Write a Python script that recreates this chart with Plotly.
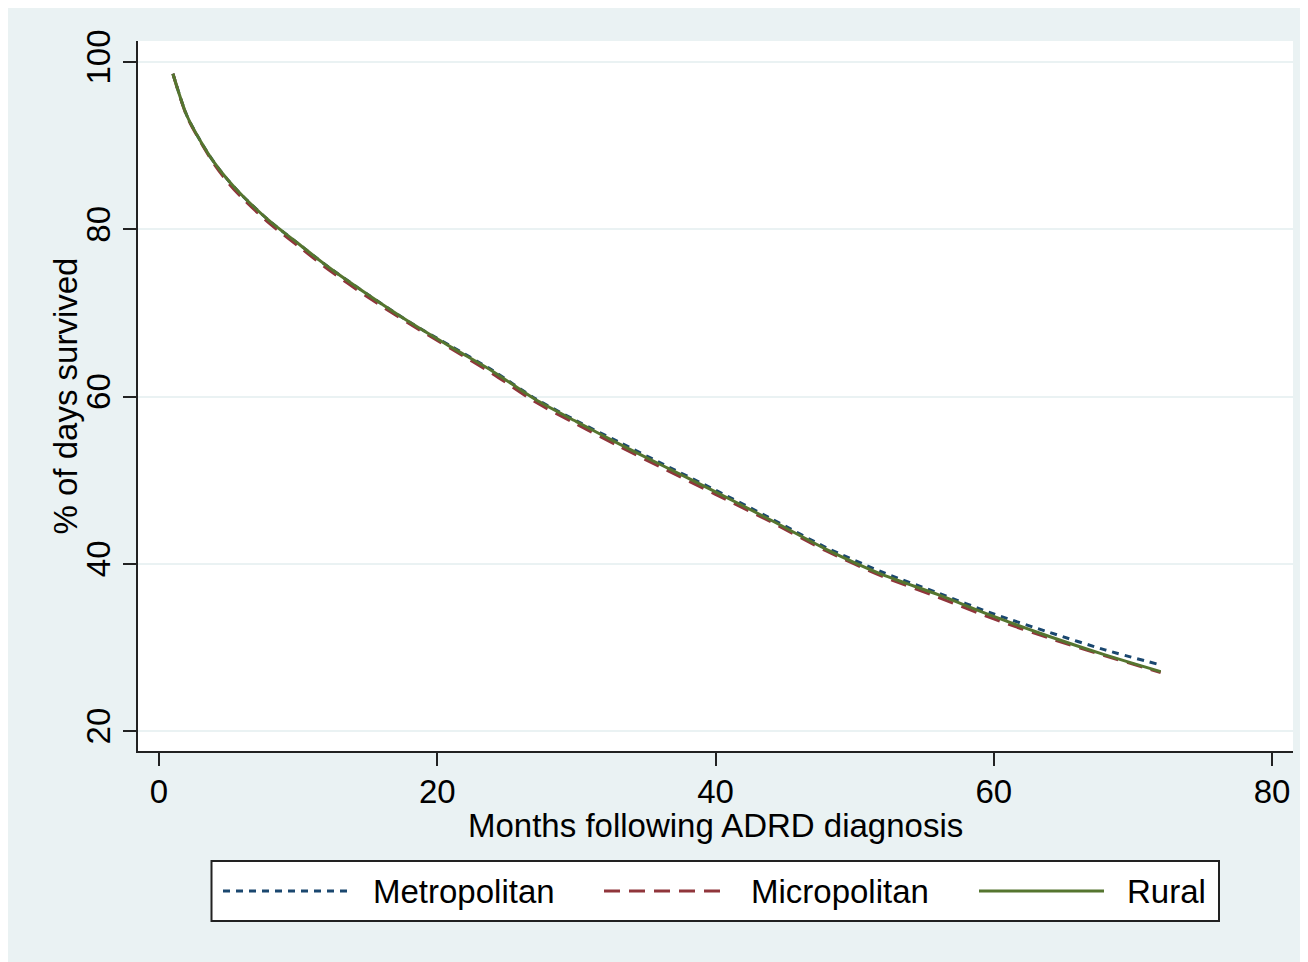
import plotly.graph_objects as go

# ---- data ----
months = [1, 2, 3, 4, 5, 6, 8, 10, 12, 15, 18, 21, 24, 27, 30, 33, 36, 40, 44, 48, 52, 56, 60, 64, 68, 72]
metropolitan = [98.6, 93.6, 90.5, 87.9, 85.8, 84.0, 80.9, 78.3, 75.7, 72.2, 68.9, 66.0, 63.1, 59.8, 57.1, 54.6,
                52.1, 48.8, 45.4, 41.9, 39.0, 36.5, 34.0, 31.8, 29.7, 27.9]
micropolitan = [98.6, 93.5, 90.4, 87.7, 85.5, 83.7, 80.6, 78.0, 75.4, 71.9, 68.7, 65.7, 62.7, 59.4, 56.7, 54.1,
                51.6, 48.3, 45.0, 41.5, 38.5, 36.0, 33.4, 31.1, 29.0, 27.0]
rural = [98.6, 93.6, 90.5, 87.9, 85.8, 84.0, 80.9, 78.3, 75.7, 72.2, 68.9, 65.9, 63.0, 59.7, 57.0, 54.4,
         51.9, 48.6, 45.2, 41.7, 38.7, 36.3, 33.7, 31.3, 29.1, 27.1]
series_names = ["Metropolitan", "Micropolitan", "Rural"]
x_ticks = [0, 20, 40, 60, 80]
y_ticks = [20, 40, 60, 80, 100]
x_title = "Months following ADRD diagnosis"
y_title = "% of days survived"

# ---- style ----
W, H = 1308, 962
OFF = 8  # page body margin
L, R, T, B = 138 - OFF, 1293 - OFF, 41 - OFF, 751 - OFF  # plot area in figure pixels
BG = "#EAF2F3"
FONT = "Liberation Sans, Arial, sans-serif"
FS = 33
colors = ["#1A476F", "#90353B", "#55752F"]
dashes = ["7px,6px", "16px,9px", "solid"]


def px_x(p):
    """screen pixel (reference) -> paper x"""
    return (p - OFF - L) / (R - L)


def px_y(p):
    """screen pixel (reference) -> paper y"""
    return (B - (p - OFF)) / (B - T)


fig = go.Figure()
for name, ys, c, d in zip(series_names, [metropolitan, micropolitan, rural], colors, dashes):
    fig.add_trace(go.Scatter(x=months, y=ys, mode="lines", name=name,
                             line=dict(color=c, width=3, dash=d, shape="spline", smoothing=0.8),
                             showlegend=False))

shapes = []
annotations = []
# legend box
shapes.append(dict(type="rect", xref="paper", yref="paper", x0=px_x(211.5), x1=px_x(1219), y0=px_y(921), y1=px_y(861),
                   fillcolor="white", line=dict(color="#222222", width=2), layer="above"))
leg_y = px_y(891)
line_spans = [(223, 347), (604, 729), (979, 1104)]
text_left = [371, 749, 1125]
for (a, b), tl, name, c, d in zip(line_spans, text_left, series_names, colors, dashes):
    shapes.append(dict(type="line", xref="paper", yref="paper", x0=px_x(a), x1=px_x(b), y0=leg_y, y1=leg_y,
                       line=dict(color=c, width=3, dash=d), layer="above"))
    annotations.append(dict(text=name, xref="paper", yref="paper", x=px_x(tl), y=leg_y, xanchor="left",
                            yanchor="middle", showarrow=False, font=dict(family=FONT, size=FS, color="black")))

# axis titles
annotations.append(dict(text=x_title, xref="paper", yref="paper", x=0.5, y=px_y(825), xanchor="center",
                        yanchor="middle", showarrow=False, font=dict(family=FONT, size=FS, color="black")))
annotations.append(dict(text=y_title, xref="paper", yref="paper", x=px_x(64.5), y=0.5, xanchor="center",
                        yanchor="middle", textangle=-90, showarrow=False,
                        font=dict(family=FONT, size=FS, color="black")))

fig.update_layout(
    width=W, height=H,
    margin=dict(l=L, r=W - R, t=T, b=H - B, pad=0),
    paper_bgcolor=BG, plot_bgcolor="white",
    font=dict(family=FONT, size=FS, color="black"),
    shapes=shapes, annotations=annotations,
    showlegend=False,
)
fig.update_xaxes(
    range=[-1.51, 81.51], tickvals=x_ticks, ticks="outside", ticklen=13, tickwidth=2, tickcolor="#222222",
    showline=True, linecolor="#222222", linewidth=2, showgrid=False, zeroline=False,
    tickfont=dict(size=FS), ticklabelstandoff=-3,
)
fig.update_yaxes(
    range=[17.61, 102.51], tickvals=y_ticks, ticks="outside", ticklen=13, tickwidth=2, tickcolor="#222222",
    showline=True, linecolor="#222222", linewidth=2, showgrid=True, gridcolor=BG, gridwidth=2, zeroline=False,
    tickangle=-90, tickfont=dict(size=FS), ticklabelstandoff=0,
)

fig.write_html("out.html")
